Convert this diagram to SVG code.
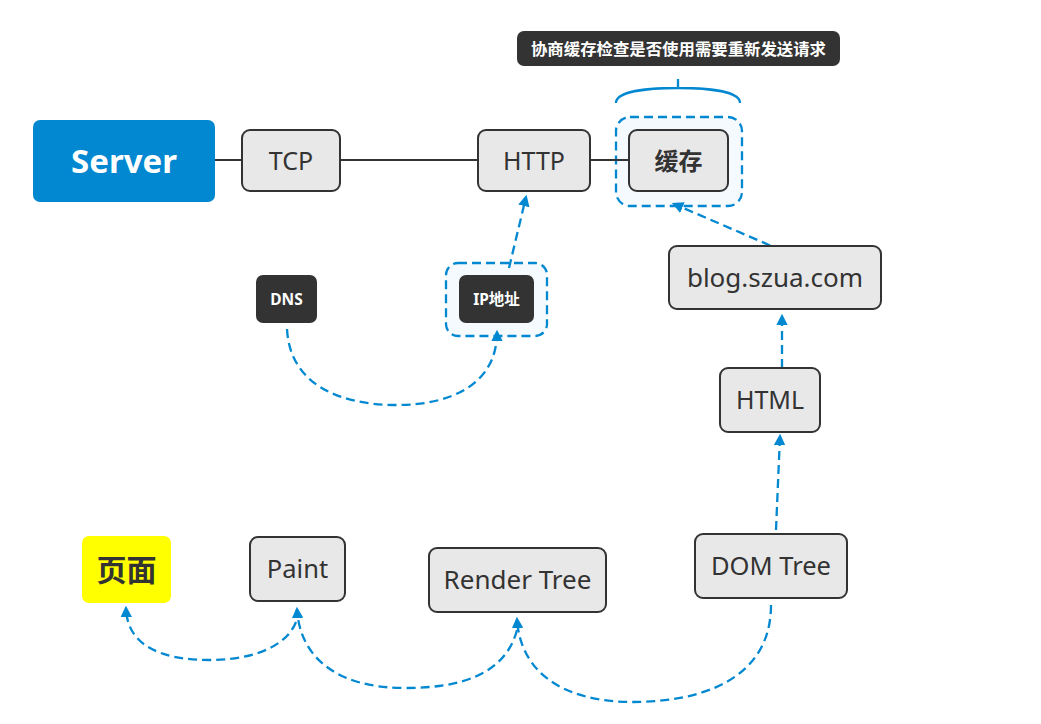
<svg xmlns="http://www.w3.org/2000/svg" width="1041" height="724" viewBox="0 0 1041 724">
<style>
.box{fill:#e8e8e8;stroke:#333;stroke-width:2}
.dark{fill:#333}
.t{font-family:"Noto Sans","Noto Sans CJK SC",sans-serif;fill:#333;text-anchor:middle;dominant-baseline:central}
.w{fill:#fff;font-weight:bold}
.solid{fill:none;stroke:#333;stroke-width:2}
.dash{fill:none;stroke:#0288d1;stroke-width:2.3;stroke-dasharray:9 5}
.bound{fill:#f5faff;stroke:#0288d1;stroke-width:2.3;stroke-dasharray:9 5}
</style>
<defs>
<marker id="ah" viewBox="0 0 10 10" refX="8" refY="5" markerWidth="5" markerHeight="5" orient="auto" markerUnits="strokeWidth">
<path d="M0,0 L10,5 L0,10 z" fill="#0288d1"/>
</marker>
</defs>
<rect width="1041" height="724" fill="#fff"/>
<g id="boundaries">
<rect class="bound" x="616" y="117" width="126" height="89" rx="14"/>
<rect class="bound" x="446" y="263" width="101" height="73" rx="12"/>
</g>
<g id="connectors">
<line class="solid" x1="215" y1="160" x2="242" y2="160"/>
<line class="solid" x1="340" y1="160" x2="478" y2="160"/>
<line class="solid" x1="590" y1="160" x2="629" y2="160"/>
<path class="dash" d="M509,268 L526,197" marker-end="url(#ah)"/>
<path class="dash" d="M783,251 L674,204" marker-end="url(#ah)"/>
<path class="dash" d="M782,368 L782,316" marker-end="url(#ah)"/>
<path class="dash" d="M776,530 L780,436" marker-end="url(#ah)"/>
<path class="dash" d="M287,329 C290,385 340,405 397,405 C450,405 497,385 497,332" marker-end="url(#ah)"/>
<path class="dash" d="M296,622 C285,650 245,660 210,660 C160,660 127,645 126,608" marker-end="url(#ah)"/>
<path class="dash" d="M517,630 C505,675 460,688 405,688 C340,688 300,660 297,609" marker-end="url(#ah)"/>
<path class="dash" d="M771,605 C771,680 700,702 633,702 C560,702 520,670 517,619" marker-end="url(#ah)"/>
<path fill="none" stroke="#0288d1" stroke-width="2.3" d="M616,103 C616,92 645,88 678,88 C711,88 740,92 740,103 M678,88 L678,79"/>
</g>
<g id="callout">
<rect class="dark" x="517" y="31" width="323" height="35" rx="7"/>
<text class="t w" x="678.5" y="48" font-size="16.4">协商缓存检查是否使用需要重新发送请求</text>
</g>
<g id="server">
<rect x="33" y="120" width="182" height="82" rx="7" fill="#0288d1"/>
<text class="t w" x="124" y="160" font-size="33">Server</text>
</g>
<g id="tcp">
<rect class="box" x="242" y="130" width="98" height="61" rx="8"/>
<text class="t" x="291" y="160" font-size="25">TCP</text>
</g>
<g id="http">
<rect class="box" x="478" y="130" width="112" height="61" rx="8"/>
<text class="t" x="534" y="160" font-size="25">HTTP</text>
</g>
<g id="cache">
<rect class="box" x="629" y="130" width="99" height="61" rx="8"/>
<text class="t" x="678.5" y="160" font-size="24" font-weight="bold">缓存</text>
</g>
<g id="dns">
<rect class="dark" x="256" y="275" width="61" height="48" rx="7"/>
<text class="t w" x="286.5" y="299" font-size="15.5">DNS</text>
</g>
<g id="ip">
<rect class="dark" x="459" y="275" width="75" height="48" rx="7"/>
<text class="t w" x="496.5" y="299" font-size="15.5">IP地址</text>
</g>
<g id="blog">
<rect class="box" x="669" y="246" width="212" height="63" rx="8"/>
<text class="t" x="775" y="277" font-size="26">blog.szua.com</text>
</g>
<g id="html">
<rect class="box" x="720" y="368" width="100" height="64" rx="8"/>
<text class="t" x="770" y="399" font-size="25">HTML</text>
</g>
<g id="page">
<rect x="82" y="536" width="89" height="67" rx="7" fill="#ffff00"/>
<text class="t" x="126.5" y="569" font-size="30" font-weight="bold">页面</text>
</g>
<g id="paint">
<rect class="box" x="250" y="537" width="95" height="64" rx="8"/>
<text class="t" x="297.5" y="568" font-size="25.5">Paint</text>
</g>
<g id="render">
<rect class="box" x="429" y="548" width="177" height="64" rx="8"/>
<text class="t" x="517.5" y="579" font-size="26">Render Tree</text>
</g>
<g id="dom">
<rect class="box" x="695" y="534" width="152" height="64" rx="8"/>
<text class="t" x="771" y="565" font-size="25.5">DOM Tree</text>
</g>
</svg>
